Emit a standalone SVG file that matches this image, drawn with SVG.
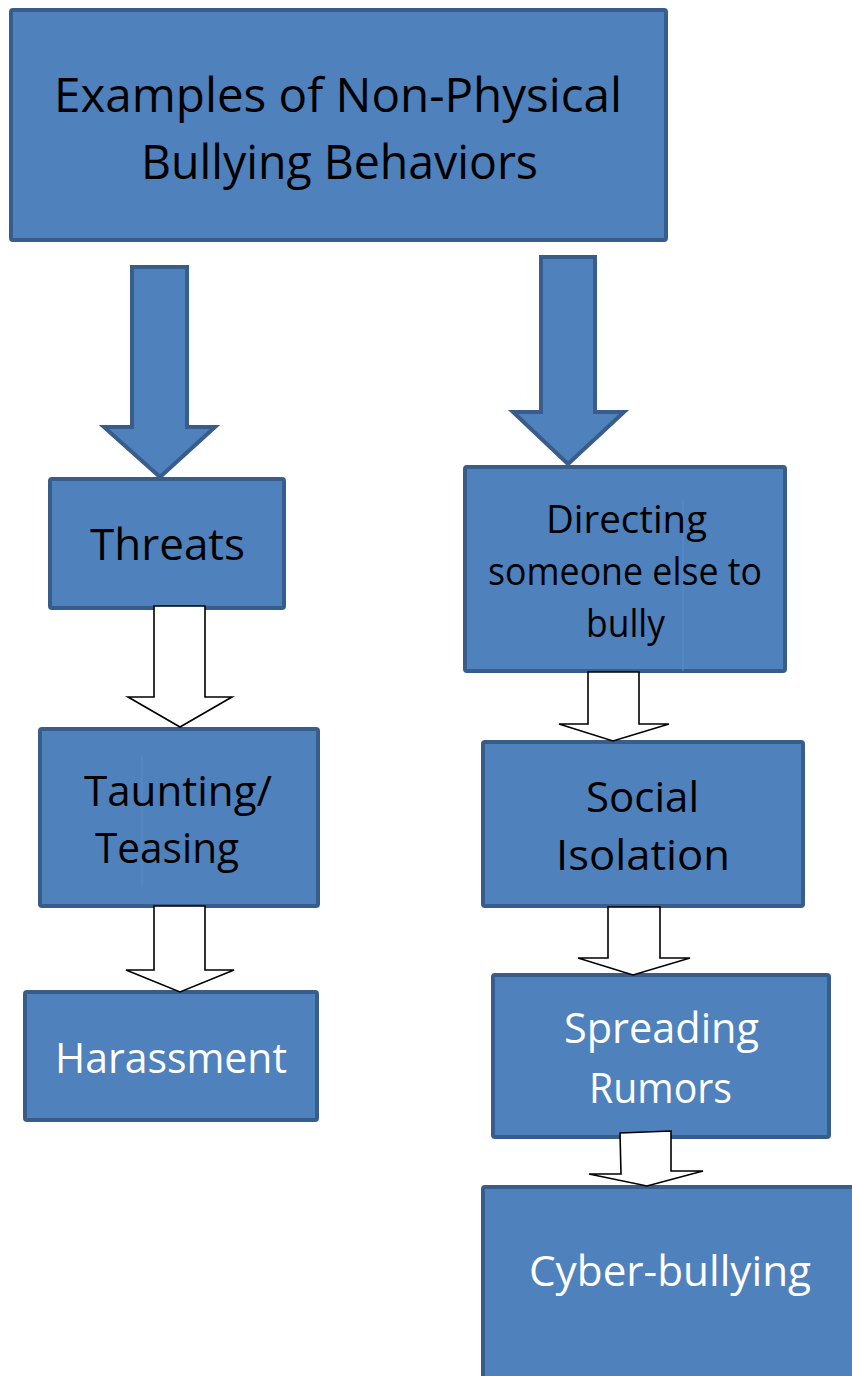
<svg xmlns="http://www.w3.org/2000/svg" width="852" height="1376" viewBox="0 0 852 1376">
<style>
.box{fill:#4F81BD;stroke:#385D8A;stroke-width:4;}
.big{fill:#4F81BD;stroke:#385D8A;stroke-width:4;stroke-linejoin:miter;}
.hollow{fill:#FFFFFF;stroke:#000000;stroke-width:1.6;stroke-linejoin:miter;}
.t{font-family:"Open Sans","DejaVu Sans",sans-serif;}
.dk{fill:#000000;}
.wh{fill:#FFFFFF;}
.faint{stroke:#5A8CC8;stroke-width:1;}
</style>
<rect width="852" height="1376" fill="#FFFFFF"/>
<g id="title">
<rect class="box" x="11" y="10" width="655" height="230" rx="2"/>
<text class="t dk" x="54" y="112" font-size="48" textLength="568" lengthAdjust="spacingAndGlyphs">Examples of Non-Physical</text>
<text class="t dk" x="141" y="179" font-size="48" textLength="397" lengthAdjust="spacingAndGlyphs">Bullying Behaviors</text>
</g>
<g id="threats">
<rect class="box" x="50" y="479" width="234" height="129" rx="2"/>
<text class="t dk" x="90" y="560" font-size="44" textLength="155" lengthAdjust="spacingAndGlyphs">Threats</text>
</g>
<g id="taunting">
<rect class="box" x="40" y="729" width="278" height="177" rx="2"/>
<line class="faint" x1="142" y1="757" x2="142" y2="887"/>
<text class="t dk" x="84" y="806" font-size="42" textLength="188" lengthAdjust="spacingAndGlyphs">Taunting/</text>
<text class="t dk" x="95" y="863" font-size="42" textLength="144" lengthAdjust="spacingAndGlyphs">Teasing</text>
</g>
<g id="harassment">
<rect class="box" x="25" y="992" width="292" height="128" rx="2"/>
<text class="t wh" x="55" y="1073" font-size="42" textLength="232" lengthAdjust="spacingAndGlyphs">Harassment</text>
</g>
<g id="directing">
<rect class="box" x="465" y="467" width="320" height="204" rx="2"/>
<line class="faint" x1="683" y1="500" x2="683" y2="671"/>
<text class="t dk" x="546" y="533" font-size="38" textLength="161" lengthAdjust="spacingAndGlyphs">Directing</text>
<text class="t dk" x="488" y="585" font-size="38" textLength="274" lengthAdjust="spacingAndGlyphs">someone else to</text>
<text class="t dk" x="586" y="637" font-size="38" textLength="79" lengthAdjust="spacingAndGlyphs">bully</text>
</g>
<g id="social">
<rect class="box" x="483" y="742" width="320" height="164" rx="2"/>
<text class="t dk" x="586" y="812" font-size="42" textLength="113" lengthAdjust="spacingAndGlyphs">Social</text>
<text class="t dk" x="556" y="870" font-size="42" textLength="174" lengthAdjust="spacingAndGlyphs">Isolation</text>
</g>
<g id="spreading">
<rect class="box" x="493" y="975" width="336" height="162" rx="2"/>
<text class="t wh" x="564" y="1043" font-size="42" textLength="195" lengthAdjust="spacingAndGlyphs">Spreading</text>
<text class="t wh" x="589" y="1103" font-size="42" textLength="143" lengthAdjust="spacingAndGlyphs">Rumors</text>
</g>
<g id="cyberbullying">
<rect class="box" x="483" y="1187" width="380" height="200" rx="2"/>
<text class="t wh" x="529" y="1286" font-size="42" textLength="282" lengthAdjust="spacingAndGlyphs">Cyber-bullying</text>
</g>
<g id="connectors">
<path class="big" d="M132,267 H187 V427 H215 L160,477 L104,427 H132 Z"/>
<path class="big" d="M541,257 H595 V412 H624 L568,464 L513,412 H541 Z"/>
<path class="hollow" d="M154,606 H205 V697 H232 L180,727 L128,697 H154 Z"/>
<path class="hollow" d="M154,906 H205 V970 H234 L180,992 L126,970 H154 Z"/>
<path class="hollow" d="M588,672 H639 V724 H669 L613,741 L559,724 H588 Z"/>
<path class="hollow" d="M608,907 H660 V958 H690 L633,975 L578,958 H608 Z"/>
<path class="hollow" d="M620,1133 L671,1131 V1171 H703 L647,1186 L589,1174 H621 Z"/>
</g>
</svg>
